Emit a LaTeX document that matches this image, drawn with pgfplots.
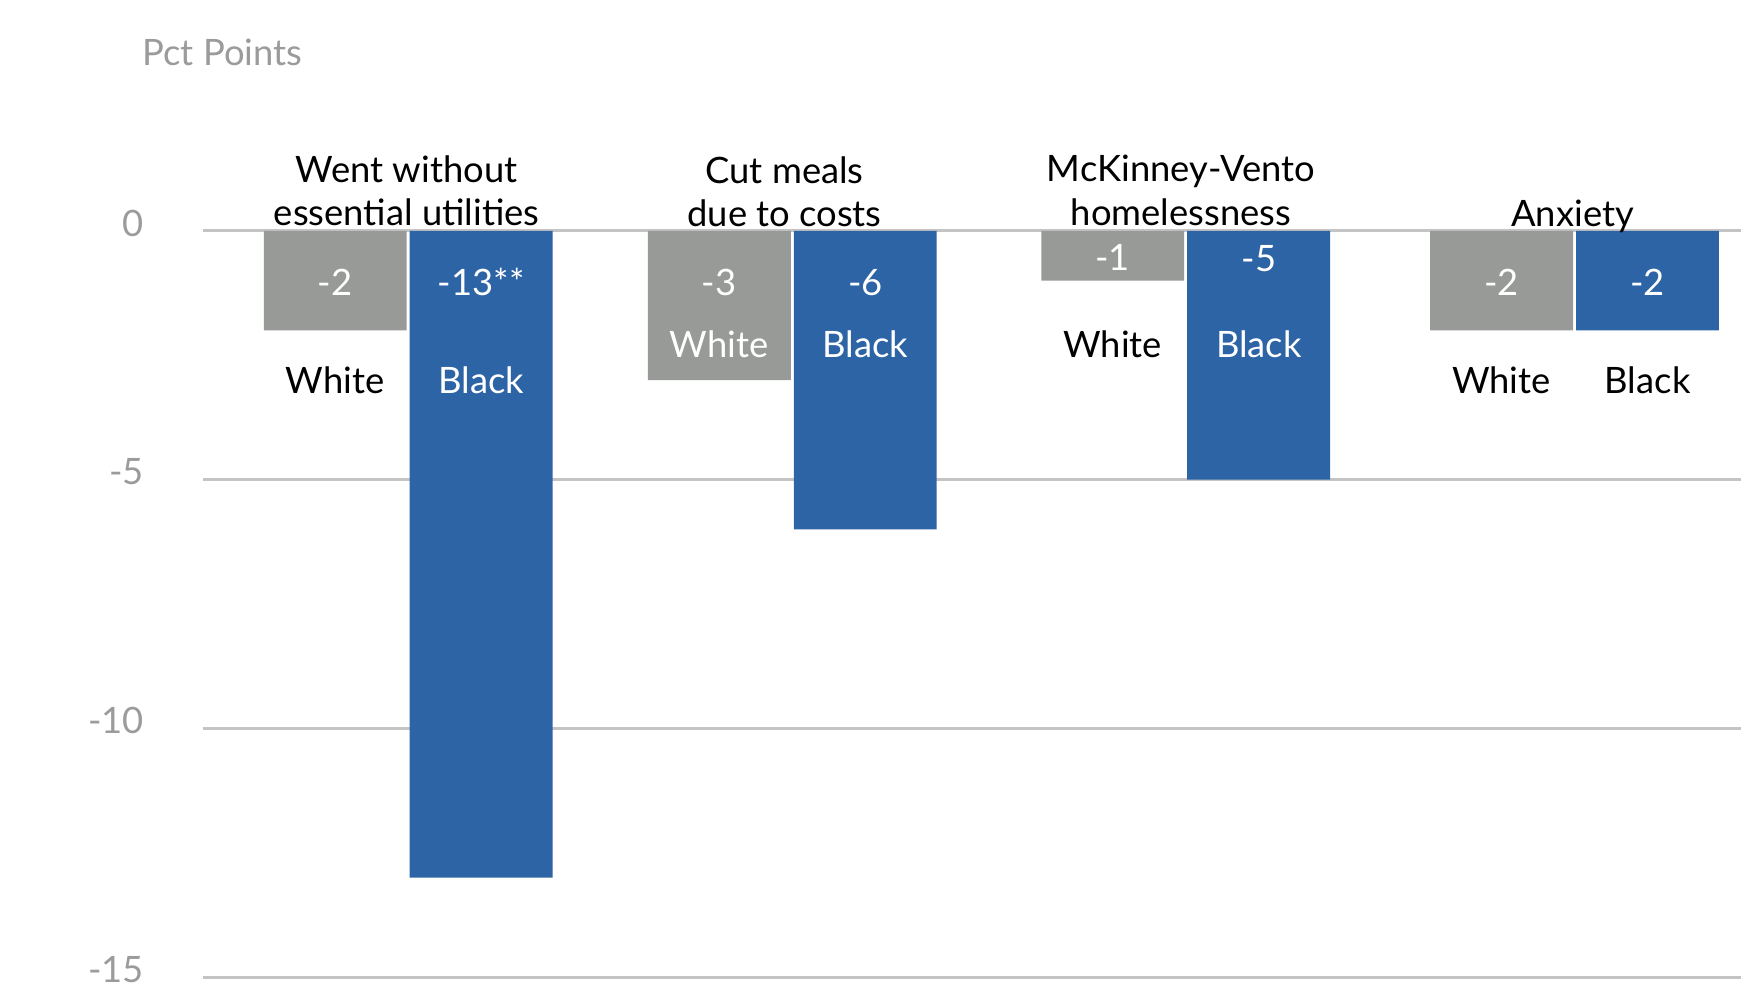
\documentclass[border=0pt]{standalone}
\usepackage{pgfplots}
\pgfplotsset{compat=1.18}
\usepackage{fontspec}
\setmainfont{Lato}
\definecolor{barGray}{HTML}{979A96}
\definecolor{barBlue}{HTML}{2D64A5}
\definecolor{tickGray}{HTML}{9B9B9B}
\definecolor{gridGray}{HTML}{C4C4C4}
\begin{document}
\fontsize{9.1}{11}\selectfont
\begin{tikzpicture}[font=\fontsize{9.1}{11}\selectfont]
\begin{axis}[
  scale only axis, width=384.75pt, height=247pt,
  xmin=-0.528, xmax=3.427, ymin=-15.2, ymax=4.64,
  ytick={-15,-10,-5,0}, yticklabels={-15,-10,-5,0},
  xtick=\empty,
  ymajorgrids, grid style={gridGray, line width=0.75pt},
  yticklabel style={anchor=base east, inner sep=0pt, xshift=-14.6pt, yshift=-1.3pt, text=tickGray},
  axis line style={draw=none}, major tick length=0pt,
  clip=false,
  ybar, bar width=35.75pt,
]
\addplot[fill=barGray, draw=none, bar shift=-18.25pt] coordinates {(0,-2) (0.988,-3) (2,-1) (3,-2)};
\addplot[fill=barBlue, draw=none, bar shift=18.25pt] coordinates {(0,-13) (0.988,-6) (2,-5) (3,-2)};
% bounding box
\path[draw=none] (axis cs:-1.05,-15.2) rectangle (axis cs:3.427,4.64);
% axis title
\node[anchor=base west, text=tickGray, inner sep=0pt] at (axis cs:-0.685,3.32) {Pct Points};
% category titles
\node[anchor=base, inner sep=0pt] at (axis cs:-0.004,0.97) {Went without};
\node[anchor=base, inner sep=0pt] at (axis cs:-0.004,0.11) {essential utilities};
\node[anchor=base, inner sep=0pt] at (axis cs:0.968,0.95) {Cut meals};
\node[anchor=base, inner sep=0pt] at (axis cs:0.968,0.09) {due to costs};
\node[anchor=base, inner sep=0pt] at (axis cs:1.988,0.99) {McKinney-Vento};
\node[anchor=base, inner sep=0pt] at (axis cs:1.988,0.11) {homelessness};
\node[anchor=base, inner sep=0pt] at (axis cs:2.995,0.08) {Anxiety};
% value labels
\node[anchor=base, inner sep=0pt, text=white] at (axis cs:-0.188,-1.29) {-2};
\node[anchor=base, inner sep=0pt, text=white] at (axis cs:0.188,-1.29) {-13**};
\node[anchor=base, inner sep=0pt, text=white] at (axis cs:0.800,-1.29) {-3};
\node[anchor=base, inner sep=0pt, text=white] at (axis cs:1.176,-1.29) {-6};
\node[anchor=base, inner sep=0pt, text=white] at (axis cs:1.812,-0.79) {-1};
\node[anchor=base, inner sep=0pt, text=white] at (axis cs:2.188,-0.82) {-5};
\node[anchor=base, inner sep=0pt, text=white] at (axis cs:2.812,-1.29) {-2};
\node[anchor=base, inner sep=0pt, text=white] at (axis cs:3.188,-1.29) {-2};
% race labels
\node[anchor=base, inner sep=0pt] at (axis cs:-0.188,-3.26) {White};
\node[anchor=base, inner sep=0pt, text=white] at (axis cs:0.188,-3.26) {Black};
\node[anchor=base, inner sep=0pt, text=white] at (axis cs:0.800,-2.55) {White};
\node[anchor=base, inner sep=0pt, text=white] at (axis cs:1.176,-2.55) {Black};
\node[anchor=base, inner sep=0pt] at (axis cs:1.812,-2.55) {White};
\node[anchor=base, inner sep=0pt, text=white] at (axis cs:2.188,-2.55) {Black};
\node[anchor=base, inner sep=0pt] at (axis cs:2.812,-3.26) {White};
\node[anchor=base, inner sep=0pt] at (axis cs:3.188,-3.26) {Black};
\end{axis}
\end{tikzpicture}
\end{document}
